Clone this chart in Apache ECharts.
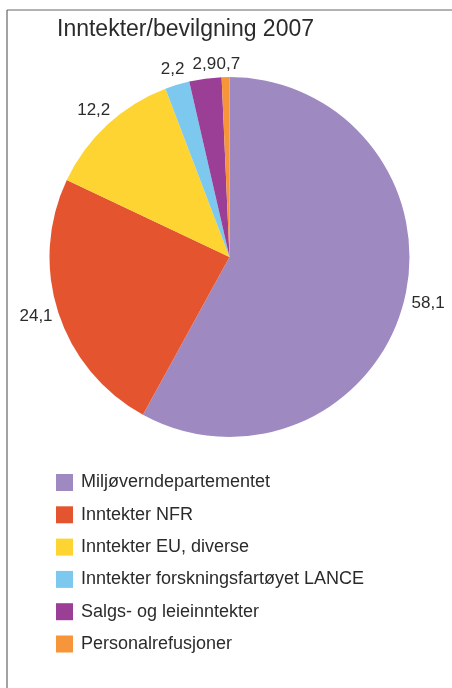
<!DOCTYPE html>
<html>
<head>
<meta charset="utf-8">
<script src="https://cdn.jsdelivr.net/npm/echarts@6/dist/echarts.min.js"></script>
<style>
html,body{margin:0;padding:0;background:#fff;}
#chart{width:452px;height:688px;}
</style>
</head>
<body>
<div id="chart"></div>
<script>
const title = 'Inntekter/bevilgning 2007';
const categories = ['Miljøverndepartementet','Inntekter NFR','Inntekter EU, diverse','Inntekter forskningsfartøyet LANCE','Salgs- og leieinntekter','Personalrefusjoner'];
const values = [58.1, 24.1, 12.2, 2.2, 2.9, 0.7];
const colors = ['#9f89c1','#e4552f','#fdd431','#7dc8ee','#9b3f96','#f7953a'];
// label placement tweaks (style only)
const labelLen = [8, 6, 20, 16, 14, 13];
const labelCentered = [false, false, true, true, true, true];

const chart = echarts.init(document.getElementById('chart'), null, {renderer:'canvas'});
const fontFamily = '"Liberation Sans", Arial, sans-serif';
const textColor = '#2b2b2b';
chart.setOption({
  animation: false,
  color: colors,
  title: {
    text: title, left: 52, top: 13,
    textStyle: {fontFamily, fontSize: 23, fontWeight: 'normal', color: textColor}
  },
  legend: {
    orient: 'vertical', left: 56, top: 473.5, padding: 0,
    itemWidth: 17, itemHeight: 17, itemGap: 14.3,
    icon: 'rect',
    textStyle: {fontFamily, fontSize: 18, color: textColor, padding:[0,0,0,3]},
    data: categories
  },
  graphic: [
    {type:'line', shape:{x1:7, y1:10, x2:452, y2:10}, style:{stroke:'#666', lineWidth:1.2}},
    {type:'line', shape:{x1:7, y1:10, x2:7, y2:688}, style:{stroke:'#666', lineWidth:1.2}}
  ],
  series: [{
    type: 'pie',
    center: [229.5, 257],
    radius: [0, 180],
    startAngle: 90,
    clockwise: true,
    avoidLabelOverlap: false,
    label: {
      show: true, position: 'outside', distanceToLabelLine: 0,
      fontFamily, fontSize: 17, color: textColor,
      formatter: p => String(p.value).replace('.', ',')
    },
    labelLine: {show: false, length: 8, length2: 0},
    labelLayout: p => labelCentered[p.dataIndex]
      ? {align: 'center', hideOverlap: false, dx: p.dataIndex === 5 ? 3 : (p.dataIndex === 4 ? 1 : 0)}
      : {hideOverlap: false, dy: p.dataIndex === 1 ? 2 : 0},
    emphasis: {disabled: true},
    data: categories.map((c, i) => ({
      name: c, value: values[i],
      labelLine: {show: false, length: labelLen[i], length2: 0}
    }))
  }]
});
</script>
</body>
</html>
